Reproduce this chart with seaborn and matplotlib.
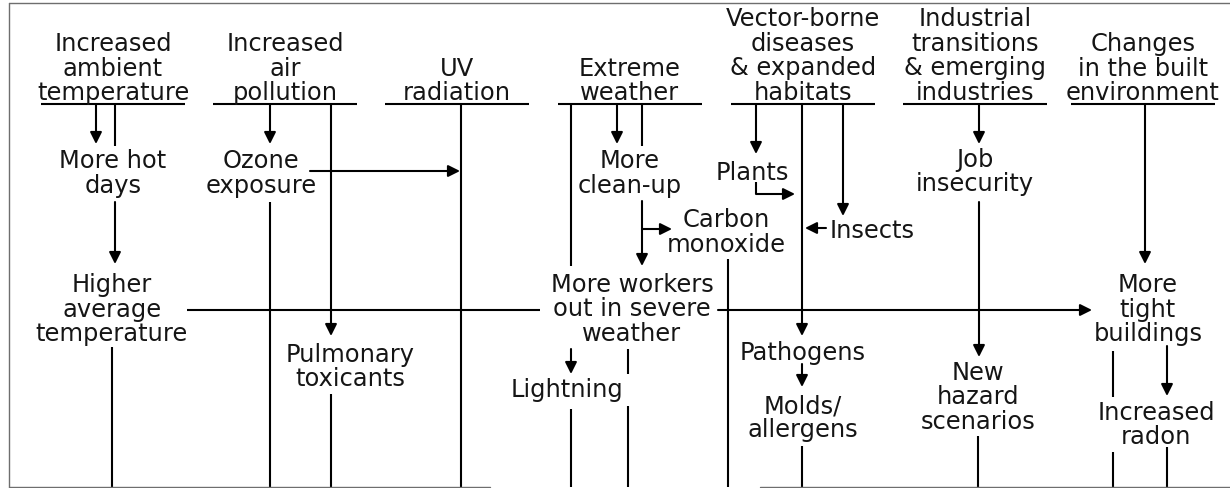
import matplotlib
matplotlib.use('Agg')
import matplotlib.pyplot as plt
import seaborn as sns

# Top-level causes (column headers)
headers = ['Increased\nambient\ntemperature',
           'Increased\nair\npollution',
           'UV\nradiation',
           'Extreme\nweather',
           'Vector-borne\ndiseases\n& expanded\nhabitats',
           'Industrial\ntransitions\n& emerging\nindustries',
           'Changes\nin the built\nenvironment']
header_x = [113, 285, 457, 630, 803, 975, 1143]

# Effect nodes: label, centre x, baseline of first line
nodes = ['More hot\ndays', 'Ozone\nexposure', 'More\nclean-up', 'Plants',
         'Job\ninsecurity', 'Carbon\nmonoxide', 'Insects',
         'Higher\naverage\ntemperature', 'More workers\nout in severe\nweather',
         'More\ntight\nbuildings', 'Pulmonary\ntoxicants', 'Pathogens',
         'Lightning', 'Molds/\nallergens', 'New\nhazard\nscenarios',
         'Increased\nradon']
node_x = [113, 261, 630, 752, 975, 726, 872, 112, 632, 1148, 350, 803,
          567, 803, 978, 1156]
node_y = [168, 168, 168, 180, 167, 227, 238, 292, 292, 292, 362, 360,
          397, 413, 380, 420]

# connectors: (x1, y1, x2, y2, arrow)
links = [
    (115, 105, 115, 147, False), (115, 203, 115, 265, True),
    (96, 105, 96, 145, True), (112, 348, 112, 488, False),
    (270, 105, 270, 145, True), (270, 203, 270, 488, False),
    (331, 105, 331, 337, True), (310, 172, 460, 172, True),
    (331, 395, 331, 488, False), (461, 105, 461, 488, False),
    (571, 105, 571, 267, False), (571, 350, 571, 375, True),
    (571, 410, 571, 488, False), (617, 105, 617, 145, True),
    (642, 105, 642, 147, False), (642, 202, 642, 267, True),
    (642, 230, 672, 230, True), (628, 350, 628, 375, False),
    (628, 407, 628, 488, False), (728, 260, 728, 488, False),
    (187, 311, 540, 311, False), (718, 311, 1092, 311, True),
    (756, 105, 756, 155, True), (756, 183, 756, 195, False),
    (756, 195, 795, 195, True), (802, 105, 802, 337, True),
    (843, 105, 843, 217, True), (826, 229, 805, 229, True),
    (802, 365, 802, 388, True), (802, 447, 802, 488, False),
    (979, 105, 979, 145, True), (979, 203, 979, 358, True),
    (978, 437, 978, 488, False), (1145, 105, 1145, 265, True),
    (1113, 352, 1113, 398, False), (1113, 453, 1113, 488, False),
    (1167, 347, 1167, 397, True), (1167, 448, 1167, 488, False),
]

sns.set_style('white')
plt.rcParams['font.family'] = ['DejaVu Sans']

fig = plt.figure(figsize=(12.3, 4.89), dpi=100)
ax = fig.add_axes([0, 0, 1, 1])
ax.set_xlim(0, 1230)
ax.set_ylim(489, 0)
ax.axis('off')

FS = 17.4
STEP = 24.5
TXT = '#151515'


def put_text(label, x, y_first):
    for i, line in enumerate(label.split('\n')):
        ax.text(x, y_first + i * STEP, line, ha='center', va='baseline',
                fontsize=FS, color=TXT)


# headers sit on their underline
for lab, x in zip(headers, header_x):
    n = lab.count('\n')
    put_text(lab, x, 100 - n * STEP)
    ax.plot([x - 72, x + 72], [105, 105], color='k', lw=1.5,
            solid_capstyle='butt')

for lab, x, y in zip(nodes, node_x, node_y):
    put_text(lab, x, y)

for x1, y1, x2, y2, arr in links:
    if arr:
        ax.annotate('', xy=(x2, y2), xytext=(x1, y1),
                    arrowprops=dict(arrowstyle='-|>,head_length=0.5,head_width=0.25',
                                    color='k', lw=1.5, mutation_scale=14,
                                    shrinkA=0, shrinkB=0))
    else:
        ax.plot([x1, x2], [y1, y2], color='k', lw=1.5, solid_capstyle='butt')

# frame (scan edge)
frame = dict(color='#6e6e6e', lw=1.0)
ax.plot([9, 1230], [4, 4], **frame)
ax.plot([9, 9], [4, 488], **frame)
ax.plot([9, 490], [488, 488], **frame)
ax.plot([760, 1230], [488, 488], **frame)

fig.savefig('out.png', dpi=100)
